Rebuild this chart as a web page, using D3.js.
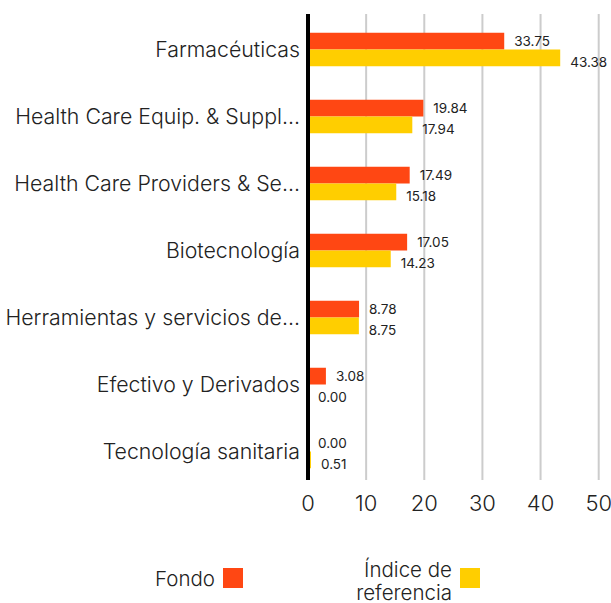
<!DOCTYPE html>
<html>
<head>
<meta charset="utf-8">
<script src="https://cdn.jsdelivr.net/npm/d3@7"></script>
<style>
	body { margin: 0; background: #fff; }
	svg { font-family: Inter, "Noto Sans", sans-serif; }
	.cat { font-size: 21.3px; fill: #222; font-weight: 300; }
	.tick-label { font-size: 22px; fill: #222; font-weight: 300; }
	.val { font-size: 13.5px; fill: #222; }
	.legend { font-size: 20.5px; fill: #222; font-weight: 300; }
</style>
</head>
<body>
<div id="chart"><svg></svg></div>
<script>
//Chart data.
const categories = [
	'Farmacéuticas',
	'Health Care Equip. & Suppl...',
	'Health Care Providers & Se...',
	'Biotecnología',
	'Herramientas y servicios de...',
	'Efectivo y Derivados',
	'Tecnología sanitaria'
];
const fondo = [33.75, 19.84, 17.49, 17.05, 8.78, 3.08, 0.00];
const indice = [43.38, 17.94, 15.18, 14.23, 8.75, 0.00, 0.51];
const xTicks = [0, 10, 20, 30, 40, 50];
const legendLabels = [['Fondo'], ['Índice de', 'referencia']];
const seriesColors = ['#ff4713', '#ffce00'];

const width = 611, height = 603;
const svg = d3.select('#chart').select('svg')
	.attr('width', width)
	.attr('height', height);

const x = d3.scaleLinear().domain([0, 50]).range([308, 598.7]);
const y = d3.scaleBand().domain(categories).range([16, 485])
	.paddingInner(0.5).paddingOuter(0.25);
const ySub = d3.scaleBand().domain([0, 1]).range([0, y.bandwidth()]);

//Gridlines.
svg.append('g').selectAll('line')
	.data(xTicks.slice(1))
	.join('line')
	.attr('x1', d => x(d)).attr('x2', d => x(d))
	.attr('y1', 14).attr('y2', 480)
	.style('stroke', '#cccccc')
	.style('stroke-width', '2px');

//Tick labels.
svg.append('g').selectAll('text')
	.data(xTicks)
	.join('text')
	.attr('class', 'tick-label')
	.attr('x', d => x(d))
	.attr('y', 511)
	.attr('text-anchor', 'middle')
	.text(d => d);

//Bars and value labels.
const rows = categories.map((c, i) => ({ cat: c, vals: [fondo[i], indice[i]] }));
const groups = svg.append('g').selectAll('g')
	.data(rows)
	.join('g')
	.attr('transform', d => `translate(0, ${y(d.cat)})`);

groups.selectAll('rect')
	.data(d => d.vals)
	.join('rect')
	.attr('x', x(0))
	.attr('y', (d, i) => ySub(i))
	.attr('width', d => x(d) - x(0))
	.attr('height', ySub.bandwidth())
	.style('fill', (d, i) => seriesColors[i]);

groups.selectAll('text.val')
	.data(d => d.vals)
	.join('text')
	.attr('class', 'val')
	.attr('x', d => x(d) + 10)
	.attr('y', (d, i) => ySub(i) + ySub.bandwidth() / 2 + (i === 1 ? 4 : 0))
	.attr('dy', '0.35em')
	.text(d => d.toFixed(2));

//Category labels.
svg.append('g').selectAll('text')
	.data(categories)
	.join('text')
	.attr('class', 'cat')
	.attr('x', 300)
	.attr('y', d => y(d) + y.bandwidth() / 2)
	.attr('dy', '0.35em')
	.attr('text-anchor', 'end')
	.text(d => d);

//Axis line.
svg.append('line')
	.attr('x1', x(0)).attr('x2', x(0))
	.attr('y1', 14).attr('y2', 480)
	.style('stroke', '#000')
	.style('stroke-width', '4px');

//Legend: text right-aligned, swatch to its right.
const legendItems = [
	{ textX: 215, swatchX: 223, baselines: [586] },
	{ textX: 452, swatchX: 460, baselines: [577, 599.5] }
];
const legend = svg.append('g');
legendItems.forEach((item, i) => {
	legendLabels[i].forEach((line, j) => {
		legend.append('text')
			.attr('class', 'legend')
			.attr('x', item.textX)
			.attr('y', item.baselines[j])
			.attr('text-anchor', 'end')
			.text(line);
	});
	legend.append('rect')
		.attr('x', item.swatchX).attr('y', 568)
		.attr('width', 20).attr('height', 20)
		.style('fill', seriesColors[i]);
});
</script>
</body>
</html>
